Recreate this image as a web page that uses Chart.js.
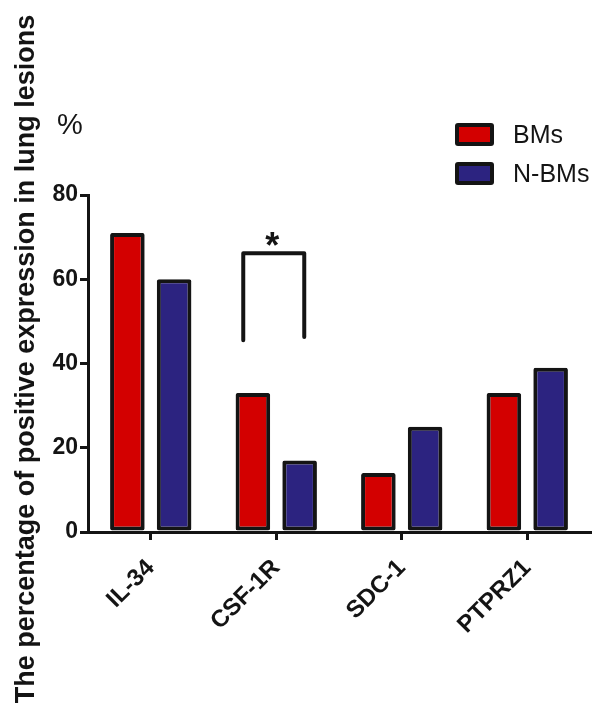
<!DOCTYPE html>
<html>
<head>
<meta charset="utf-8">
<script src="https://cdn.jsdelivr.net/npm/chart.js@4"></script>
<style>
  html, body { margin: 0; padding: 0; background: #fff; }
</style>
</head>
<body>
<canvas id="chart" width="595" height="712"></canvas>
<script>
const categories = ['IL-34', 'CSF-1R', 'SDC-1', 'PTPRZ1'];
const seriesNames = ['BMs', 'N-BMs'];
const bmsValues = [71, 33, 14, 33];
const nbmsValues = [60, 17, 25, 39];
const yTicks = [0, 20, 40, 60, 80];
const yTitle = 'The percentage of positive expression in lung lesions';

const FONT = "'Liberation Sans', Arial, sans-serif";
const INK = '#141414';

// draws the axis title, %, legend and the significance bracket
const extras = {
  id: 'extras',
  afterDraw(chart) {
    const ctx = chart.ctx;
    const x = chart.scales.x, y = chart.scales.y;
    ctx.save();
    ctx.fillStyle = INK;

    ctx.save();
    ctx.translate(34, 359);
    ctx.rotate(-Math.PI / 2);
    ctx.font = 'bold 27px ' + FONT;
    ctx.textAlign = 'center';
    ctx.textBaseline = 'alphabetic';
    ctx.fillText(yTitle, 0, 0);
    ctx.restore();

    ctx.font = '29px ' + FONT;
    ctx.textAlign = 'left';
    ctx.fillText('%', 57, 134);

    // legend
    chart.data.datasets.forEach((ds, i) => {
      const top = 123 + i * 39;
      ctx.fillStyle = INK;
      ctx.beginPath();
      ctx.roundRect(455, top, 39, 23, 3);
      ctx.fill();
      ctx.fillStyle = ds.backgroundColor;
      ctx.fillRect(459, top + 4, 31, 15);
      ctx.fillStyle = INK;
      ctx.font = '25px ' + FONT;
      ctx.textBaseline = 'alphabetic';
      ctx.fillText(ds.label, 513, top + 20);
    });

    // bracket over CSF-1R
    const cx = x.getPixelForValue(1);
    ctx.strokeStyle = INK;
    ctx.lineWidth = 4;
    ctx.lineCap = 'round';
    ctx.lineJoin = 'round';
    ctx.beginPath();
    ctx.moveTo(cx - 33, y.getPixelForValue(45.5));
    ctx.lineTo(cx - 33, y.getPixelForValue(66.2));
    ctx.lineTo(cx + 28, y.getPixelForValue(66.2));
    ctx.lineTo(cx + 28, y.getPixelForValue(46.3));
    ctx.stroke();
    ctx.font = 'bold 36px ' + FONT;
    ctx.textAlign = 'center';
    ctx.fillText('*', cx - 4, 258);
    ctx.restore();
  }
};

new Chart(document.getElementById('chart'), {
  type: 'bar',
  data: {
    labels: categories,
    datasets: [
      { label: seriesNames[0], data: bmsValues, backgroundColor: '#D30000' },
      { label: seriesNames[1], data: nbmsValues, backgroundColor: '#2C2380' }
    ]
  },
  options: {
    responsive: false,
    animation: false,
    devicePixelRatio: 1,
    layout: { padding: { top: 195, right: 5, left: 0, bottom: 0 } },
    datasets: {
      bar: {
        borderColor: INK,
        borderWidth: 4,
        borderSkipped: false,
        borderRadius: 2,
        categoryPercentage: 0.745,
        barPercentage: 0.74
      }
    },
    plugins: { legend: { display: false }, tooltip: { enabled: false } },
    scales: {
      x: {
        afterFit(s) { s.height = 180; },
        grid: { offset: false, drawOnChartArea: false, tickLength: 8, lineWidth: 3, color: INK },
        border: { display: true, width: 3, color: INK },
        ticks: {
          minRotation: 45, maxRotation: 45, padding: 14,
          color: INK, font: { family: FONT, size: 24, weight: 'bold' }
        }
      },
      y: {
        min: 0, max: 80,
        afterFit(s) { s.width = 88; },
        afterBuildTicks(s) { s.ticks = yTicks.map(v => ({ value: v })); },
        grid: { drawOnChartArea: false, tickLength: 8, lineWidth: 3, color: INK },
        border: { display: true, width: 3, color: INK },
        ticks: { padding: 2, color: INK, font: { family: FONT, size: 23, weight: 'bold' } }
      }
    }
  },
  plugins: [extras]
});
</script>
</body>
</html>
